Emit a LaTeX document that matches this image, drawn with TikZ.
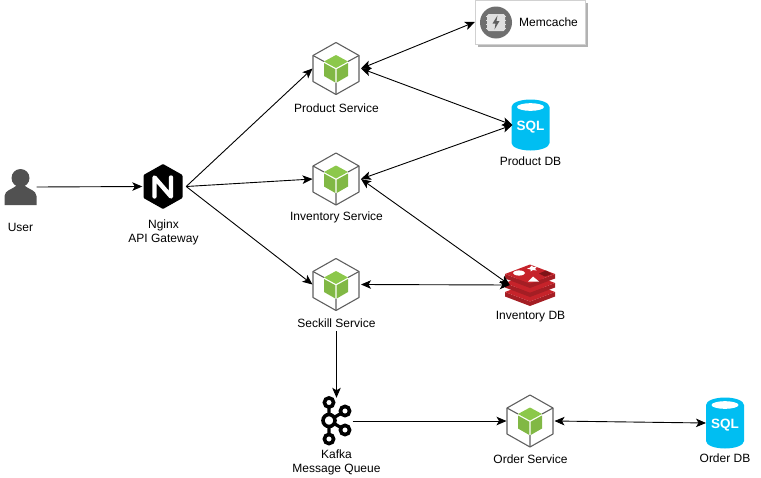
\documentclass[tikz,border=0pt]{standalone}
\usepackage{fontspec}
\setmainfont{Liberation Sans}
\usetikzlibrary{arrows.meta}
\definecolor{svcgrey}{HTML}{5F5F5F}
\definecolor{svcgreen}{HTML}{8CC84B}
\definecolor{sqlblue}{HTML}{00BEF2}
\definecolor{redisa}{HTML}{C6232A}
\definecolor{redisb}{HTML}{A41E24}
\definecolor{redisc}{HTML}{7E1418}
\tikzset{
  x=1pt,y=-1pt,
  conn/.style={draw=black,line width=0.9pt,-{Stealth[length=10pt,width=8.5pt,inset=2.5pt]}},
  biconn/.style={draw=black,line width=0.9pt,{Stealth[length=10pt,width=8.5pt,inset=2.5pt]}-{Stealth[length=10pt,width=8.5pt,inset=2.5pt]}},
  lbl/.style={font=\fontsize{12}{14}\selectfont,align=center,inner sep=0pt,text=black},
  svcbox/.style={inner sep=0pt,outer sep=0pt,minimum width=47pt,minimum height=52pt},
  dbbox/.style={inner sep=0pt,outer sep=0pt,minimum width=38pt,minimum height=51pt},
  service/.pic={
    \draw[svcgrey,line width=1.1pt,line join=round] (0,-26)--(23,-13)--(23,13)--(0,26)--(-23,13)--(-23,-13)--cycle;
    \draw[svcgrey,line width=1.1pt] (-23,-13)--(-12,-7) (23,-13)--(12,-7) (0,26)--(0,14);
    \fill[svcgreen] (0,-13.5)--(12,-7)--(0,-0.5)--(-12,-7)--cycle;
    \fill[svcgreen!92!black] (-12,-5.5)--(-0.7,0.7)--(-0.7,14)--(-12,7.5)--cycle;
    \fill[svcgreen!92!black] (12,-5.5)--(0.7,0.7)--(0.7,14)--(12,7.5)--cycle;
  },
  sqldb/.pic={
    \fill[sqlblue] (-19,-18) arc[start angle=180,end angle=360,x radius=19,y radius=7.5]
      -- (19,18) arc[start angle=0,end angle=180,x radius=19,y radius=7.5] -- cycle;
    \fill[white] (0,-18) ellipse[x radius=13.5,y radius=3.8];
    \node[font=\fontsize{13.5}{16}\selectfont\bfseries,text=white,inner sep=0pt] at (0,2.5) {SQL};
  }
}
\begin{document}
\begin{tikzpicture}
\useasboundingbox (0,0) rectangle (761,477);
% service icons
\node[svcbox] (product) at (336,68.5) {};
\node[svcbox] (inventory) at (336,179) {};
\node[svcbox] (seckill) at (336,284.5) {};
\node[svcbox] (order) at (530,421) {};
\pic at (product.center) {service};
\pic at (inventory.center) {service};
\pic at (seckill.center) {service};
\pic at (order.center) {service};
% user
\node[inner sep=0pt,minimum width=32pt,minimum height=36pt] (user) at (20.5,187) {};
\fill[svcgrey!85!black] (20.5,178) circle[radius=9];
\fill[svcgrey!85!black] (4.5,205) -- (4.5,196) .. controls (5,190) and (12,189.5) .. (16,186) -- (25,186) .. controls (29,189.5) and (36,190) .. (36.5,196) -- (36.5,205) -- cycle;
% nginx
\node[inner sep=0pt,minimum width=45pt,minimum height=45pt] (nginx) at (163.5,186.5) {};
\fill[black,rounded corners=1pt] (163,164)--(182.5,175)--(182.5,198)--(163,209)--(143.5,198)--(143.5,175)--cycle;
\draw[white,line width=4.4pt,line cap=round,line join=round] (154.5,196.5)--(154.5,177.5)--(171,196.5)--(171,177.5);
% memcache
\fill[black!30] (478,3) rectangle (588,47);
\node[draw=black!18,fill=white,line width=0.6pt,inner sep=0pt,minimum width=110.5pt,minimum height=44pt] (memcache) at (530.5,22) {};
\fill[svcgrey!90!white] (496,22.5) circle[radius=16];
\fill[black!12,rounded corners=1.5pt] (487,14) rectangle (505,31);
\foreach \yy in {16,20,24,28}{
  \draw[black!12,line width=1.2pt] (486,\yy+0.5)--(488,\yy+0.5) (504,\yy+0.5)--(506,\yy+0.5);
}
\fill[svcgrey] (497.5,15.5)--(492.5,23.5)--(495.5,23.5)--(494.5,29.5)--(499.5,21)--(496.5,21)--cycle;
\node[lbl,anchor=west] (memlabel) at (519,22) {Memcache};
% databases
\node[dbbox] (productdb) at (530.5,125) {};
\node[dbbox] (orderdb) at (725,423) {};
\pic at (productdb.center) {sqldb};
\pic at (orderdb.center) {sqldb};
% redis
\node[inner sep=0pt,minimum width=50pt,minimum height=43pt] (redis) at (530,285) {};
\foreach \dy in {0,-9,-18}{
  \fill[redisb] (505,292+\dy)--(505,296.5+\dy)--(530,306+\dy)--(555,296.5+\dy)--(555,292+\dy)--(530,301.5+\dy)--cycle;
  \fill[redisa] (505,292+\dy)--(530,282.5+\dy)--(555,292+\dy)--(530,301.5+\dy)--cycle;
}
\fill[white] (519,273) ellipse[x radius=6,y radius=2.6];
\fill[white] (530,267.5)--(531.5,265.5)--(533,267)--(537,266.5)--(535,269)--(536.5,270.5)--(533,270)--(530.5,271.5)--(530.5,269.5)--(527,268.5)--cycle;
\fill[white] (528,281.5)--(533,276.5)--(539,281.5)--cycle;
\fill[redisc] (539,273.5)--(546,270.5)--(552,274)--(545,276.5)--cycle;
% kafka
\coordinate (kc) at (329,420.5);
\draw[black,line width=3.2pt] (329,402.5)--(kc)--(329,439) (345,411)--(kc)--(345,430);
\foreach \px/\py/\rr in {329/402.5/4.6,329/439/4.6,345/411/4.6,345/430/4.6,329/420.5/6}{
  \draw[black,line width=3.6pt,fill=white] (\px,\py) circle[radius=\rr];
}
\node[inner sep=0pt,minimum width=32pt,minimum height=46pt] (kafka) at (336.5,421) {};
% labels
\node[lbl] (userlabel) at (20.5,227) {User};
\node[lbl] (nginxlabel) at (163.5,232) {Nginx\\API Gateway};
\node[lbl] (productlabel) at (336.5,108) {Product Service};
\node[lbl] (inventorylabel) at (336.5,217) {Inventory Service};
\node[lbl] (seckilllabel) at (336.5,323) {Seckill Service};
\node[lbl] (productdblabel) at (530.5,161) {Product DB};
\node[lbl] (inventorydblabel) at (530.5,317) {Inventory DB};
\node[lbl] (kafkalabel) at (336.5,462) {Kafka\\Message Queue};
\node[lbl] (orderlabel) at (530.5,459) {Order Service};
\node[lbl] (orderdblabel) at (725,458) {Order DB};
% connectors
\draw[conn] (user.east) -- ([xshift=1.5pt]nginx.west);
\draw[conn] (nginx.east) -- (product.west);
\draw[conn] (nginx.east) -- (inventory.west);
\draw[conn] (nginx.east) -- (seckill.west);
\draw[biconn] ([xshift=1.5pt]product.east) -- (memcache.west);
\draw[biconn] ([xshift=1.5pt]product.east) -- ([xshift=1pt]productdb.west);
\draw[biconn] ([xshift=1.5pt]inventory.east) -- ([xshift=1pt]productdb.west);
\draw[biconn] ([xshift=1.5pt]inventory.east) -- ([xshift=5pt]redis.west);
\draw[biconn] ([xshift=1.5pt]seckill.east) -- ([xshift=5pt]redis.west);
\draw[conn] (seckilllabel.south |- 0,331) -- (kafka.north -| seckilllabel.south);
\draw[conn] (kafka.east) -- (order.west);
\draw[biconn] ([xshift=1pt]order.east) -- (orderdb.west);
\end{tikzpicture}
\end{document}
